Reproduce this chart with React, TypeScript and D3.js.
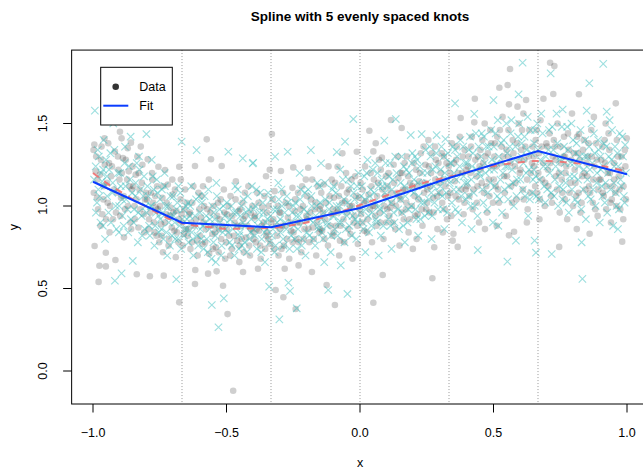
import React from "react";
import * as d3 from "d3";

// ---- Data ----
const xTicks = [-1.0, -0.5, 0.0, 0.5, 1.0];
const yTicks = [0.0, 0.5, 1.0, 1.5];
const knots = [-2 / 3, -1 / 3, 0, 1 / 3, 2 / 3];

const fitX = [-1, -2 / 3, -1 / 3, 0, 1 / 3, 2 / 3, 1];
const fitY = [1.147, 0.899, 0.871, 0.988, 1.17, 1.333, 1.192];

const trueX = [-1.0, -0.95, -0.9, -0.85, -0.8, -0.75, -0.7, -0.65, -0.6, -0.55, -0.5, -0.45, -0.4, -0.35, -0.3, -0.25, -0.2, -0.15, -0.1, -0.05, 0, 0.05, 0.1, 0.15, 0.2, 0.25, 0.3, 0.35, 0.4, 0.45, 0.5, 0.55, 0.6, 0.65, 0.7, 0.75, 0.8, 0.85, 0.9, 0.95, 1.0];
const trueY = [1.2, 1.14, 1.09, 1.04, 0.995, 0.95, 0.912, 0.89, 0.878, 0.87, 0.862, 0.862, 0.865, 0.866, 0.872, 0.885, 0.9, 0.925, 0.95, 0.977, 1.006, 1.035, 1.064, 1.093, 1.121, 1.145, 1.165, 1.183, 1.205, 1.225, 1.242, 1.255, 1.265, 1.272, 1.272, 1.268, 1.26, 1.253, 1.244, 1.228, 1.206];

const dataPoints: [number, number][] = [
  [-0.998,1.339],[-0.995,1.372],[-0.994,0.758],[-0.979,0.54],[-0.976,0.638],[-0.952,0.634],[-0.952,0.717],[-0.99,1.21],[-0.985,1.05],[-0.97,1.28],[-0.965,0.95],[-0.96,1.12],[-0.957,1.41],[-0.983,1.16],[-0.972,0.88],
  [-0.916,0.673],[-0.899,1.45],[-0.893,1.41],[-0.945,1.02],[-0.94,1.26],[-0.932,1.18],[-0.925,0.92],[-0.918,1.33],[-0.91,1.08],[-0.905,1.22],[-0.938,0.84],
  [-0.858,1.384],[-0.895,1.05],[-0.888,1.29],[-0.88,0.98],[-0.872,1.16],[-0.866,1.21],[-0.86,0.9],[-0.855,1.1],[-0.884,0.81],[-0.87,1.35],
  [-0.836,0.586],[-0.821,1.36],[-0.845,1.0],[-0.84,1.19],[-0.83,0.87],[-0.826,1.1],[-0.815,1.25],[-0.81,0.95],[-0.805,1.04],[-0.834,1.3],
  [-0.795,1.283],[-0.787,0.574],[-0.755,1.238],[-0.79,0.92],[-0.783,1.08],[-0.778,1.16],[-0.77,0.84],[-0.765,0.99],[-0.76,1.12],[-0.752,0.78],[-0.775,1.02],
  [-0.735,0.578],[-0.73,1.218],[-0.745,0.89],[-0.74,1.05],[-0.725,0.95],[-0.72,1.13],[-0.715,0.8],[-0.71,0.99],[-0.705,0.87],[-0.702,1.07],[-0.738,0.72],
  [-0.677,0.416],[-0.677,1.238],[-0.695,0.85],[-0.688,0.97],[-0.68,0.78],[-0.672,1.04],[-0.665,0.9],[-0.66,0.83],[-0.655,1.1],[-0.69,0.69],[-0.668,0.95],
  [-0.618,1.242],[-0.618,0.527],[-0.617,0.612],[-0.645,0.82],[-0.64,0.95],[-0.635,0.74],[-0.628,1.02],[-0.622,0.88],[-0.61,0.79],[-0.605,1.08],[-0.632,0.9],
  [-0.574,1.404],[-0.569,0.59],[-0.558,1.283],[-0.595,0.93],[-0.59,0.77],[-0.584,1.0],[-0.578,0.86],[-0.565,0.71],[-0.56,0.96],[-0.553,0.83],[-0.588,1.12],
  [-0.537,0.604],[-0.518,1.242],[-0.513,0.517],[-0.545,0.88],[-0.54,0.75],[-0.532,1.02],[-0.525,0.92],[-0.52,0.8],[-0.51,1.1],[-0.505,0.68],[-0.528,0.86],
  [-0.496,0.345],[-0.475,-0.12],[-0.498,0.95],[-0.49,0.82],[-0.485,1.06],[-0.48,0.74],[-0.47,0.9],[-0.465,1.15],[-0.46,0.79],[-0.455,0.97],[-0.452,0.66],
  [-0.445,0.88],[-0.44,1.02],[-0.435,0.72],[-0.43,0.94],[-0.425,0.81],[-0.418,1.12],[-0.412,0.7],[-0.408,0.86],[-0.403,1.0],[-0.438,0.6],
  [-0.396,0.93],[-0.39,0.78],[-0.385,1.08],[-0.378,0.85],[-0.372,0.68],[-0.366,0.99],[-0.36,0.9],[-0.355,0.74],[-0.352,1.18],[-0.382,0.62],
  [-0.33,1.436],[-0.316,0.491],[-0.348,0.84],[-0.342,1.0],[-0.336,0.77],[-0.325,0.92],[-0.32,1.09],[-0.31,0.82],[-0.305,0.7],[-0.302,0.96],[-0.338,1.22],
  [-0.296,1.212],[-0.287,0.447],[-0.25,1.234],[-0.292,0.88],[-0.285,0.76],[-0.278,1.02],[-0.27,0.93],[-0.265,0.68],[-0.258,0.85],[-0.253,1.11],[-0.282,0.62],
  [-0.241,0.376],[-0.245,0.97],[-0.238,0.8],[-0.232,1.08],[-0.226,0.9],[-0.22,0.72],[-0.214,1.0],[-0.208,0.86],[-0.203,1.16],[-0.23,0.64],
  [-0.194,1.232],[-0.198,0.92],[-0.19,0.78],[-0.184,1.04],[-0.176,0.87],[-0.17,0.98],[-0.164,0.7],[-0.158,1.12],[-0.152,0.84],[-0.18,0.6],
  [-0.125,0.521],[-0.148,1.0],[-0.142,0.85],[-0.136,1.13],[-0.13,0.92],[-0.12,0.76],[-0.114,1.06],[-0.108,0.95],[-0.103,0.82],[-0.118,1.24],
  [-0.094,0.4],[-0.084,1.238],[-0.066,1.319],[-0.098,1.05],[-0.09,0.88],[-0.082,0.98],[-0.075,0.79],[-0.07,1.12],[-0.062,0.92],[-0.055,1.03],[-0.078,0.7],
  [-0.012,1.329],[-0.048,0.96],[-0.042,1.1],[-0.036,0.83],[-0.03,1.0],[-0.024,0.9],[-0.018,1.18],[-0.008,0.77],[-0.004,1.05],[-0.028,0.68],
  [0.035,1.456],[0.05,1.331],[0.05,0.414],[0.004,0.95],[0.01,1.1],[0.016,0.85],[0.022,1.03],[0.028,0.92],[0.04,1.2],[0.045,0.78],[0.032,1.07],
  [0.059,1.38],[0.082,1.293],[0.085,0.582],[0.055,1.0],[0.062,0.88],[0.068,1.14],[0.074,0.96],[0.078,1.22],[0.088,0.8],[0.094,1.06],[0.098,0.9],
  [0.116,1.521],[0.104,1.12],[0.11,0.94],[0.12,1.02],[0.126,1.25],[0.132,0.86],[0.138,1.08],[0.144,1.17],[0.148,0.76],[0.113,0.99],
  [0.156,1.473],[0.152,1.04],[0.158,1.2],[0.164,0.92],[0.17,1.1],[0.176,1.3],[0.182,0.84],[0.188,1.14],[0.194,1.0],[0.198,0.74],[0.172,0.98],
  [0.204,1.06],[0.21,1.22],[0.216,0.95],[0.222,1.15],[0.228,1.32],[0.234,0.88],[0.24,1.08],[0.245,1.25],[0.248,0.98],[0.212,0.8],
  [0.256,1.4],[0.271,0.562],[0.281,1.36],[0.252,1.1],[0.26,0.96],[0.266,1.2],[0.274,1.05],[0.284,1.28],[0.29,0.86],[0.296,1.14],[0.278,0.75],
  [0.347,0.79],[0.302,1.2],[0.308,1.02],[0.314,1.3],[0.32,1.12],[0.326,0.92],[0.332,1.24],[0.338,1.08],[0.344,1.38],[0.31,0.84],
  [0.35,0.832],[0.366,0.752],[0.377,1.533],[0.355,1.15],[0.36,1.28],[0.37,1.04],[0.382,1.2],[0.388,0.95],[0.392,1.34],[0.396,1.1],[0.374,1.42],
  [0.43,1.65],[0.428,1.507],[0.404,1.24],[0.41,1.06],[0.416,1.36],[0.422,0.98],[0.436,1.18],[0.442,1.3],[0.446,0.9],[0.44,1.12],
  [0.452,1.22],[0.458,1.4],[0.464,1.08],[0.47,1.3],[0.476,0.96],[0.482,1.16],[0.488,1.46],[0.494,1.24],[0.498,1.02],[0.468,0.86],
  [0.522,1.717],[0.503,1.3],[0.508,1.12],[0.514,1.42],[0.52,1.02],[0.528,1.26],[0.534,1.54],[0.54,1.18],[0.546,0.94],[0.53,1.36],[0.512,0.88],
  [0.553,1.733],[0.562,1.83],[0.558,1.616],[0.558,0.822],[0.577,0.844],[0.59,1.602],[0.555,1.3],[0.566,1.12],[0.572,1.4],[0.58,1.24],[0.586,1.04],[0.594,1.5],[0.598,1.2],
  [0.622,1.642],[0.604,1.34],[0.61,1.1],[0.616,1.28],[0.628,0.98],[0.634,1.46],[0.64,1.2],[0.646,1.36],[0.625,0.9],[0.612,1.56],
  [0.687,1.65],[0.652,1.24],[0.658,1.4],[0.664,1.08],[0.67,1.32],[0.676,1.52],[0.682,1.16],[0.692,1.0],[0.698,1.38],[0.672,0.92],
  [0.712,1.868],[0.728,1.848],[0.724,1.679],[0.746,0.752],[0.704,1.22],[0.71,1.44],[0.716,1.06],[0.722,1.3],[0.734,1.18],[0.74,1.5],[0.748,0.96],[0.73,1.36],
  [0.752,1.26],[0.758,1.08],[0.764,1.42],[0.77,1.2],[0.776,0.92],[0.782,1.34],[0.788,1.14],[0.794,1.56],[0.798,1.0],[0.768,1.3],
  [0.82,1.677],[0.82,1.436],[0.804,1.22],[0.81,1.06],[0.816,1.32],[0.826,0.96],[0.832,1.18],[0.838,1.4],[0.844,1.1],[0.848,1.26],[0.812,0.86],
  [0.86,0.832],[0.852,1.3],[0.858,1.12],[0.866,1.46],[0.872,1.02],[0.878,1.24],[0.884,1.38],[0.89,0.94],[0.896,1.16],[0.876,1.54],
  [0.904,1.28],[0.91,1.08],[0.916,1.4],[0.922,0.98],[0.928,1.2],[0.934,1.34],[0.94,0.9],[0.946,1.12],[0.92,1.5],[0.938,1.02],
  [0.958,1.622],[0.982,0.784],[0.999,1.41],[0.952,1.16],[0.96,1.0],[0.966,1.3],[0.972,1.1],[0.978,1.22],[0.986,0.92],[0.992,1.34],[0.996,1.04],
  // core band
  [-0.997,1.08],[-0.988,1.3],[-0.981,0.98],[-0.974,1.19],[-0.968,1.36],[-0.961,1.04],[-0.956,1.25],[-0.951,0.92],
  [-0.948,1.14],[-0.943,1.38],[-0.936,1.0],[-0.929,1.24],[-0.921,1.1],[-0.914,0.96],[-0.907,1.3],[-0.901,1.16],
  [-0.898,0.94],[-0.892,1.2],[-0.885,1.06],[-0.877,1.28],[-0.869,1.0],[-0.863,1.12],[-0.857,0.86],[-0.852,1.24],
  [-0.849,1.12],[-0.843,0.92],[-0.837,1.04],[-0.829,1.2],[-0.823,0.98],[-0.817,1.14],[-0.808,0.84],[-0.802,1.08],
  [-0.798,1.04],[-0.792,0.86],[-0.785,0.96],[-0.779,1.2],[-0.772,0.9],[-0.767,1.06],[-0.762,0.82],[-0.757,0.98],
  [-0.749,1.0],[-0.743,0.82],[-0.737,1.12],[-0.731,0.9],[-0.724,1.02],[-0.717,0.76],[-0.711,0.94],[-0.703,1.16],
  [-0.699,0.96],[-0.693,1.1],[-0.686,0.84],[-0.679,0.92],[-0.671,1.16],[-0.664,0.76],[-0.658,0.98],[-0.652,0.86],
  [-0.649,1.02],[-0.643,0.86],[-0.637,0.96],[-0.63,0.78],[-0.624,1.12],[-0.614,0.92],[-0.608,0.7],[-0.602,0.98],
  [-0.599,0.82],[-0.593,1.06],[-0.586,0.9],[-0.58,0.78],[-0.572,0.98],[-0.566,1.16],[-0.559,0.88],[-0.551,0.74],
  [-0.549,1.0],[-0.543,0.84],[-0.535,0.94],[-0.529,0.72],[-0.522,1.04],[-0.515,0.88],[-0.508,0.96],[-0.502,0.78],
  [-0.499,0.86],[-0.492,1.0],[-0.486,0.7],[-0.478,0.94],[-0.472,0.82],[-0.466,1.04],[-0.459,0.88],[-0.451,0.76],
  [-0.449,0.98],[-0.443,0.8],[-0.437,0.92],[-0.431,1.08],[-0.422,0.88],[-0.415,0.76],[-0.409,0.96],[-0.401,0.84],
  [-0.399,0.8],[-0.393,0.94],[-0.387,0.86],[-0.38,1.02],[-0.374,0.76],[-0.368,0.88],[-0.358,1.06],[-0.351,0.82],
  [-0.349,0.96],[-0.344,0.8],[-0.333,0.9],[-0.327,1.04],[-0.322,0.74],[-0.314,0.88],[-0.308,1.0],[-0.301,0.86],
  [-0.299,0.96],[-0.294,0.74],[-0.288,1.08],[-0.281,0.88],[-0.273,0.8],[-0.267,1.0],[-0.26,0.9],[-0.252,0.78],
  [-0.249,0.84],[-0.243,1.04],[-0.235,0.9],[-0.229,0.78],[-0.223,0.98],[-0.217,1.12],[-0.211,0.8],[-0.201,0.94],
  [-0.199,1.06],[-0.193,0.86],[-0.187,0.96],[-0.179,1.16],[-0.173,0.8],[-0.167,1.02],[-0.161,0.9],[-0.151,0.98],
  [-0.149,0.86],[-0.145,1.08],[-0.139,0.96],[-0.133,0.8],[-0.127,1.02],[-0.111,0.88],[-0.106,1.16],[-0.101,0.98],
  [-0.099,0.84],[-0.093,1.14],[-0.087,0.96],[-0.079,1.06],[-0.073,0.88],[-0.067,1.02],[-0.059,0.78],[-0.052,1.2],
  [-0.049,1.08],[-0.044,0.86],[-0.038,1.0],[-0.032,1.16],[-0.022,0.94],[-0.016,1.06],[-0.01,0.88],[-0.002,0.98],
  [0.002,1.14],[0.008,0.9],[0.014,1.02],[0.019,1.24],[0.026,0.84],[0.037,0.98],[0.043,1.12],[0.048,1.0],
  [0.052,1.16],[0.057,0.94],[0.064,1.06],[0.071,1.28],[0.076,0.9],[0.084,1.1],[0.091,1.0],[0.097,1.18],
  [0.102,0.98],[0.107,1.2],[0.115,1.08],[0.122,0.9],[0.128,1.14],[0.135,1.0],[0.141,1.3],[0.147,1.06],
  [0.151,1.2],[0.155,0.96],[0.161,1.1],[0.167,1.26],[0.174,1.02],[0.18,1.18],[0.186,0.92],[0.196,1.12],
  [0.201,1.26],[0.206,0.94],[0.213,1.12],[0.219,1.04],[0.225,1.2],[0.231,0.98],[0.238,1.36],[0.243,1.14],
  [0.251,1.02],[0.258,1.24],[0.263,1.12],[0.269,1.32],[0.276,0.96],[0.282,1.16],[0.288,1.06],[0.294,1.26],
  [0.301,1.08],[0.306,1.32],[0.312,1.16],[0.318,0.98],[0.324,1.26],[0.33,1.06],[0.336,1.2],[0.342,0.94],
  [0.352,1.26],[0.358,1.06],[0.363,1.36],[0.368,1.2],[0.379,1.1],[0.385,1.3],[0.391,1.02],[0.398,1.22],
  [0.401,1.12],[0.407,1.3],[0.413,1.2],[0.419,1.42],[0.425,1.1],[0.432,1.28],[0.438,1.02],[0.448,1.24],
  [0.451,1.34],[0.456,1.14],[0.461,1.26],[0.467,1.5],[0.473,1.12],[0.479,1.32],[0.485,1.06],[0.491,1.38],
  [0.501,1.16],[0.506,1.38],[0.511,1.24],[0.517,1.1],[0.524,1.46],[0.536,1.3],[0.542,1.08],[0.549,1.34],
  [0.551,1.18],[0.556,1.46],[0.563,1.26],[0.569,1.02],[0.575,1.32],[0.582,1.14],[0.588,1.38],[0.596,1.28],
  [0.601,1.22],[0.607,1.46],[0.613,1.04],[0.619,1.36],[0.626,1.16],[0.632,1.3],[0.638,1.08],[0.644,1.26],
  [0.651,1.3],[0.656,1.12],[0.662,1.46],[0.668,1.2],[0.674,1.04],[0.68,1.36],[0.686,1.26],[0.694,1.14],
  [0.701,1.36],[0.706,1.12],[0.713,1.26],[0.719,1.02],[0.726,1.4],[0.733,1.28],[0.738,1.1],[0.745,1.2],
  [0.751,1.36],[0.756,1.16],[0.762,1.3],[0.767,1.04],[0.773,1.24],[0.779,1.44],[0.785,1.08],[0.791,1.28],
  [0.801,1.32],[0.807,1.14],[0.813,1.42],[0.819,1.08],[0.824,1.28],[0.83,1.02],[0.835,1.34],[0.841,1.2],
  [0.851,1.18],[0.856,1.38],[0.862,1.08],[0.868,1.3],[0.874,1.16],[0.881,0.98],[0.887,1.28],[0.893,1.1],
  [0.901,1.16],[0.907,1.36],[0.913,1.06],[0.918,1.26],[0.924,1.12],[0.931,1.44],[0.936,1.2],[0.943,1.04],
  [0.951,1.26],[0.956,1.08],[0.962,1.4],[0.969,1.18],[0.975,0.98],[0.98,1.3],[0.987,1.12],[0.994,1.24],
];

const crossPoints: [number, number][] = [
  [-0.993,1.578],[-0.99,1.24],[-0.985,1.02],[-0.978,1.3],[-0.972,0.9],[-0.966,1.15],[-0.96,1.4],[-0.955,0.8],[-0.98,1.1],[-0.962,1.22],
  [-0.924,1.501],[-0.918,0.547],[-0.948,1.18],[-0.942,0.96],[-0.935,1.32],[-0.928,1.08],[-0.912,0.86],[-0.906,1.2],[-0.902,1.0],
  [-0.893,0.592],[-0.859,1.42],[-0.851,0.667],[-0.896,1.12],[-0.89,0.94],[-0.882,1.26],[-0.876,1.04],[-0.868,0.84],[-0.862,1.16],[-0.88,1.36],
  [-0.8,1.436],[-0.846,0.98],[-0.84,1.14],[-0.832,0.78],[-0.826,1.22],[-0.818,0.94],[-0.812,1.06],[-0.806,0.86],[-0.828,1.3],
  [-0.796,1.12],[-0.79,0.88],[-0.784,1.0],[-0.776,1.18],[-0.77,0.76],[-0.764,0.96],[-0.758,1.08],[-0.753,0.84],[-0.78,1.28],
  [-0.748,0.92],[-0.742,1.1],[-0.736,0.8],[-0.728,1.0],[-0.722,0.7],[-0.716,0.9],[-0.71,1.06],[-0.704,0.82],[-0.732,1.2],
  [-0.688,0.556],[-0.668,1.39],[-0.698,0.94],[-0.692,0.8],[-0.684,1.02],[-0.676,0.88],[-0.67,0.74],[-0.662,0.98],[-0.656,0.86],[-0.68,1.12],
  [-0.612,1.339],[-0.648,0.92],[-0.642,0.78],[-0.636,1.0],[-0.63,0.84],[-0.624,0.7],[-0.618,0.94],[-0.608,0.82],[-0.603,1.06],
  [-0.555,0.4],[-0.598,0.86],[-0.592,1.02],[-0.586,0.74],[-0.58,0.9],[-0.574,0.8],[-0.568,1.1],[-0.562,0.92],[-0.556,0.68],
  [-0.53,0.265],[-0.51,0.44],[-0.548,0.96],[-0.542,0.82],[-0.536,1.06],[-0.524,0.9],[-0.518,0.76],[-0.512,1.0],[-0.504,0.86],[-0.54,0.66],
  [-0.493,1.329],[-0.496,0.9],[-0.488,0.78],[-0.482,1.0],[-0.476,0.86],[-0.47,0.7],[-0.464,0.96],[-0.458,1.1],[-0.452,0.82],
  [-0.439,1.289],[-0.402,1.258],[-0.448,0.94],[-0.442,0.76],[-0.436,1.04],[-0.43,0.88],[-0.424,0.72],[-0.418,0.98],[-0.41,0.84],[-0.405,1.12],
  [-0.4,1.262],[-0.398,0.86],[-0.392,1.0],[-0.386,0.74],[-0.38,0.92],[-0.374,1.08],[-0.368,0.8],[-0.362,0.96],[-0.356,0.66],[-0.352,0.9],
  [-0.34,0.511],[-0.318,1.299],[-0.302,0.313],[-0.346,0.92],[-0.338,0.78],[-0.332,1.04],[-0.326,0.86],[-0.32,0.72],[-0.312,0.98],[-0.306,1.14],
  [-0.271,1.329],[-0.268,0.535],[-0.262,0.485],[-0.298,0.84],[-0.292,1.0],[-0.286,0.76],[-0.28,0.9],[-0.274,1.06],[-0.258,0.82],[-0.254,0.96],
  [-0.237,0.38],[-0.248,0.88],[-0.242,1.02],[-0.236,0.74],[-0.228,0.94],[-0.222,1.1],[-0.216,0.8],[-0.21,0.98],[-0.204,0.7],[-0.226,1.2],
  [-0.184,1.339],[-0.196,0.96],[-0.19,0.82],[-0.182,1.06],[-0.176,0.9],[-0.168,0.76],[-0.162,1.0],[-0.156,0.86],[-0.152,1.12],
  [-0.146,1.259],[-0.119,0.491],[-0.144,0.92],[-0.138,0.8],[-0.13,1.04],[-0.124,0.88],[-0.116,0.98],[-0.11,0.72],[-0.104,1.1],[-0.134,0.66],
  [-0.087,1.327],[-0.056,1.39],[-0.096,0.94],[-0.09,1.08],[-0.084,0.82],[-0.076,1.0],[-0.07,0.9],[-0.064,1.16],[-0.058,0.78],[-0.072,0.64],
  [-0.047,0.467],[-0.025,1.527],[-0.046,1.02],[-0.04,0.88],[-0.034,1.12],[-0.028,0.94],[-0.02,1.04],[-0.014,0.8],[-0.006,1.2],[-0.01,0.9],
  [0.004,1.06],[0.01,0.9],[0.016,1.18],[0.022,0.98],[0.028,1.28],[0.034,0.84],[0.04,1.1],[0.046,0.96],[0.02,0.72],[0.048,1.22],
  [0.091,1.396],[0.054,1.08],[0.06,0.92],[0.066,1.2],[0.072,1.0],[0.078,0.82],[0.084,1.12],[0.09,0.96],[0.096,1.26],[0.07,0.7],
  [0.134,1.527],[0.102,1.04],[0.108,1.18],[0.114,0.88],[0.12,1.1],[0.126,0.96],[0.132,1.3],[0.14,1.06],[0.146,0.86],[0.118,0.74],
  [0.19,1.43],[0.152,1.14],[0.158,0.96],[0.164,1.24],[0.17,1.06],[0.178,0.9],[0.184,1.2],[0.192,1.0],[0.196,1.32],[0.168,0.78],
  [0.231,1.436],[0.202,1.16],[0.208,0.98],[0.214,1.28],[0.22,1.06],[0.226,0.92],[0.234,1.2],[0.24,1.02],[0.246,1.34],[0.218,0.82],
  [0.287,1.43],[0.252,1.2],[0.258,1.04],[0.264,1.3],[0.27,0.94],[0.276,1.12],[0.282,1.24],[0.292,0.98],[0.298,1.16],[0.268,0.8],
  [0.32,1.406],[0.302,1.22],[0.308,1.06],[0.314,1.3],[0.326,0.96],[0.332,1.16],[0.338,1.26],[0.344,1.02],[0.348,1.36],[0.316,0.86],
  [0.356,1.622],[0.352,1.2],[0.358,0.98],[0.364,1.3],[0.37,1.1],[0.376,1.4],[0.382,0.9],[0.388,1.18],[0.394,1.26],[0.398,1.04],
  [0.441,0.733],[0.428,1.558],[0.402,1.14],[0.408,1.34],[0.414,1.0],[0.42,1.24],[0.426,1.08],[0.434,1.44],[0.44,0.94],[0.446,1.2],[0.418,0.86],
  [0.5,1.642],[0.452,1.3],[0.458,1.1],[0.464,1.42],[0.47,1.2],[0.476,0.98],[0.482,1.36],[0.488,1.14],[0.494,1.28],[0.498,0.9],
  [0.502,1.22],[0.508,1.44],[0.514,1.06],[0.52,1.3],[0.526,1.16],[0.532,0.96],[0.538,1.4],[0.544,1.24],[0.548,1.5],[0.518,0.88],
  [0.552,0.663],[0.584,0.79],[0.594,1.677],[0.552,1.32],[0.558,1.12],[0.564,1.44],[0.57,1.22],[0.576,1.0],[0.582,1.36],[0.588,1.16],[0.596,1.5],
  [0.609,1.868],[0.604,1.3],[0.61,1.1],[0.616,1.42],[0.622,1.2],[0.628,1.54],[0.636,1.04],[0.642,1.32],[0.648,1.16],[0.63,0.94],
  [0.654,0.79],[0.659,0.717],[0.652,1.38],[0.658,1.18],[0.664,1.5],[0.67,1.04],[0.676,1.28],[0.684,1.44],[0.69,1.12],[0.696,1.3],
  [0.714,1.804],[0.718,0.709],[0.702,1.24],[0.708,1.46],[0.716,1.08],[0.724,1.34],[0.73,1.16],[0.736,1.56],[0.742,1.0],[0.748,1.28],
  [0.759,1.585],[0.752,1.2],[0.758,1.04],[0.764,1.36],[0.77,1.14],[0.776,1.48],[0.782,0.96],[0.788,1.26],[0.794,1.1],[0.798,1.4],
  [0.83,0.78],[0.833,0.558],[0.849,1.578],[0.802,1.18],[0.808,1.32],[0.814,1.02],[0.82,1.24],[0.826,1.46],[0.836,1.1],[0.842,1.3],[0.846,0.92],
  [0.859,1.744],[0.852,1.16],[0.858,1.36],[0.864,1.04],[0.87,1.26],[0.876,1.44],[0.882,1.0],[0.888,1.2],[0.894,1.34],[0.898,0.9],
  [0.911,1.861],[0.924,1.572],[0.902,1.22],[0.908,1.06],[0.914,1.38],[0.92,1.14],[0.926,0.96],[0.932,1.3],[0.938,1.1],[0.944,1.46],[0.948,0.88],
  [0.993,1.37],[0.952,1.24],[0.958,1.08],[0.964,1.32],[0.97,0.98],[0.976,1.16],[0.982,1.42],[0.988,1.06],[0.996,1.2],[0.966,0.86],
  // core band
  [-0.996,1.16],[-0.989,0.96],[-0.982,1.34],[-0.975,1.06],[-0.969,1.2],[-0.963,0.88],[-0.957,1.12],[-0.951,1.28],
  [-0.947,1.06],[-0.94,1.22],[-0.933,0.9],[-0.926,1.14],[-0.92,1.34],[-0.915,1.0],[-0.909,1.1],[-0.903,0.84],
  [-0.899,1.2],[-0.891,1.04],[-0.885,0.88],[-0.878,1.12],[-0.871,0.98],[-0.865,1.24],[-0.858,0.92],[-0.853,1.08],
  [-0.848,0.9],[-0.842,1.06],[-0.836,1.26],[-0.83,0.96],[-0.822,1.1],[-0.816,0.82],[-0.809,1.18],[-0.803,1.0],
  [-0.799,0.96],[-0.793,1.06],[-0.787,0.82],[-0.781,1.0],[-0.773,1.1],[-0.767,0.88],[-0.761,1.16],[-0.755,0.94],
  [-0.749,1.04],[-0.744,0.86],[-0.738,0.96],[-0.731,1.12],[-0.725,0.84],[-0.719,1.0],[-0.712,0.76],[-0.707,0.94],
  [-0.699,1.06],[-0.694,0.9],[-0.687,0.98],[-0.681,0.8],[-0.673,1.08],[-0.666,0.92],[-0.659,0.82],[-0.652,1.0],
  [-0.649,0.86],[-0.644,1.02],[-0.638,0.94],[-0.632,1.12],[-0.626,0.8],[-0.62,0.88],[-0.614,1.04],[-0.606,0.76],
  [-0.599,0.96],[-0.594,0.8],[-0.588,0.88],[-0.582,1.06],[-0.576,0.94],[-0.57,0.72],[-0.564,0.86],[-0.553,1.0],
  [-0.549,0.78],[-0.544,0.92],[-0.538,1.14],[-0.532,0.86],[-0.526,0.98],[-0.52,0.7],[-0.514,0.84],[-0.506,0.94],
  [-0.499,1.02],[-0.494,0.84],[-0.487,0.92],[-0.48,0.76],[-0.474,0.96],[-0.467,1.12],[-0.461,0.88],[-0.454,0.74],
  [-0.449,0.84],[-0.444,1.0],[-0.438,0.9],[-0.432,0.78],[-0.426,0.96],[-0.42,1.06],[-0.414,0.8],[-0.407,0.92],
  [-0.399,0.98],[-0.394,0.82],[-0.388,1.1],[-0.382,0.88],[-0.376,0.96],[-0.37,0.72],[-0.364,1.02],[-0.358,0.84],
  [-0.349,0.86],[-0.344,1.08],[-0.336,0.94],[-0.33,0.82],[-0.324,0.98],[-0.316,0.76],[-0.31,0.9],[-0.304,1.04],
  [-0.299,0.92],[-0.294,1.1],[-0.288,0.8],[-0.282,0.96],[-0.276,0.86],[-0.27,1.02],[-0.264,0.74],[-0.256,0.9],
  [-0.249,1.0],[-0.244,0.8],[-0.238,0.94],[-0.232,0.86],[-0.224,1.04],[-0.218,0.76],[-0.212,0.9],[-0.206,1.08],
  [-0.199,0.84],[-0.194,1.1],[-0.188,0.92],[-0.18,1.0],[-0.174,0.8],[-0.166,0.94],[-0.16,1.14],[-0.154,0.88],
  [-0.149,1.02],[-0.143,0.84],[-0.137,0.96],[-0.131,1.14],[-0.122,0.9],[-0.115,1.02],[-0.108,0.82],[-0.102,0.94],
  [-0.099,1.12],[-0.094,0.86],[-0.088,1.0],[-0.08,0.9],[-0.074,1.22],[-0.067,0.96],[-0.06,1.04],[-0.053,0.86],
  [-0.049,0.94],[-0.043,1.16],[-0.037,0.98],[-0.031,0.82],[-0.024,1.08],[-0.017,0.92],[-0.011,1.12],[-0.003,1.0],
  [0.002,0.96],[0.007,1.12],[0.013,0.86],[0.019,1.04],[0.025,1.2],[0.031,0.94],[0.037,1.06],[0.043,0.88],
  [0.052,1.02],[0.057,1.26],[0.063,0.9],[0.069,1.12],[0.075,0.98],[0.081,1.16],[0.087,0.88],[0.093,1.08],
  [0.101,1.12],[0.106,0.92],[0.112,1.26],[0.117,1.02],[0.123,1.16],[0.129,0.9],[0.137,1.2],[0.143,0.98],
  [0.151,1.04],[0.156,1.3],[0.162,0.88],[0.167,1.12],[0.174,1.22],[0.181,0.98],[0.188,1.1],[0.194,1.26],
  [0.201,1.08],[0.206,1.3],[0.211,0.92],[0.217,1.14],[0.224,1.24],[0.229,1.02],[0.236,1.12],[0.243,0.94],
  [0.251,1.14],[0.256,0.96],[0.261,1.36],[0.267,1.08],[0.273,1.22],[0.279,1.02],[0.286,1.32],[0.294,1.08],
  [0.301,1.12],[0.305,1.36],[0.311,0.98],[0.318,1.2],[0.323,1.08],[0.329,1.32],[0.336,1.14],[0.342,1.26],
  [0.351,1.1],[0.356,1.34],[0.361,1.16],[0.367,0.96],[0.373,1.24],[0.379,1.06],[0.386,1.36],[0.393,1.14],
  [0.401,1.26],[0.406,1.06],[0.412,1.42],[0.417,1.16],[0.423,1.32],[0.43,1.0],[0.437,1.22],[0.444,1.36],
  [0.451,1.18],[0.456,1.44],[0.462,1.02],[0.467,1.26],[0.473,1.36],[0.479,1.08],[0.485,1.22],[0.491,1.46],
  [0.501,1.36],[0.505,1.12],[0.511,1.26],[0.516,1.52],[0.523,1.04],[0.529,1.38],[0.535,1.2],[0.541,1.1],
  [0.551,1.24],[0.555,1.04],[0.561,1.36],[0.567,1.52],[0.573,1.14],[0.579,1.28],[0.586,1.06],[0.592,1.42],
  [0.601,1.16],[0.606,1.38],[0.612,1.26],[0.618,1.06],[0.624,1.34],[0.633,1.22],[0.639,1.46],[0.645,1.08],
  [0.651,1.22],[0.656,1.46],[0.661,1.06],[0.667,1.34],[0.673,1.16],[0.679,1.56],[0.687,1.24],[0.694,1.02],
  [0.701,1.1],[0.706,1.34],[0.711,1.2],[0.72,1.48],[0.727,1.06],[0.733,1.24],[0.739,1.38],[0.746,1.12],
  [0.751,1.3],[0.756,1.48],[0.761,1.1],[0.767,1.26],[0.773,1.02],[0.779,1.34],[0.786,1.18],[0.792,1.5],
  [0.801,1.26],[0.806,1.04],[0.811,1.38],[0.817,1.16],[0.823,1.3],[0.829,0.98],[0.838,1.22],[0.844,1.4],
  [0.851,1.3],[0.855,1.06],[0.861,1.22],[0.867,1.5],[0.873,1.1],[0.879,1.32],[0.886,1.14],[0.892,1.4],
  [0.901,1.3],[0.905,1.12],[0.911,1.24],[0.917,1.02],[0.923,1.36],[0.929,1.2],[0.935,1.52],[0.942,1.28],
  [0.951,1.14],[0.955,1.36],[0.961,1.0],[0.967,1.24],[0.973,1.44],[0.979,1.12],[0.985,1.3],[0.991,1.02],
];

const W = 643;
const H = 470;
const FONT = "'Liberation Sans', Arial, Helvetica, sans-serif";

export default function App() {
  const x = d3.scaleLinear().domain([-1, 1]).range([93, 627]);
  const y = d3.scaleLinear().domain([0, 1.5]).range([371, 123.5]);
  const left = x(-1.08);
  const right = x(1.08);
  const top = y(1.945);
  const bottom = y(-0.2);

  const line = d3
    .line<number>()
    .x((_, i) => x(fitX[i]))
    .y((d) => y(d));
  const trueLine = d3
    .line<number>()
    .x((_, i) => x(trueX[i]))
    .y((d) => y(d))
    .curve(d3.curveMonotoneX);

  const cs = 3.7;

  return (
    <svg
      width={W}
      height={H}
      style={{ position: "absolute", left: 0, top: 0, background: "#fff" }}
      fontFamily={FONT}
    >
      <rect x={0} y={0} width={W} height={H} fill="#fff" />
      <text x={x(0)} y={20.5} textAnchor="middle" fontWeight="bold" fontSize={13.5} fill="#000">
        Spline with 5 evenly spaced knots
      </text>

      <g>
        {dataPoints.map((p, i) => (
          <circle key={"d" + i} cx={x(p[0])} cy={y(p[1])} r={3.3} fill="#000" fillOpacity={0.19} />
        ))}
      </g>
      <g stroke="#3cc0c0" strokeOpacity={0.5} strokeWidth={1.1}>
        {crossPoints.map((p, i) => {
          const cx = x(p[0]);
          const cy = y(p[1]);
          return (
            <path
              key={"c" + i}
              d={`M${cx - cs},${cy - cs}L${cx + cs},${cy + cs}M${cx - cs},${cy + cs}L${cx + cs},${cy - cs}`}
            />
          );
        })}
      </g>

      {knots.map((k, i) => (
        <line key={"k" + i} x1={x(k)} x2={x(k)} y1={top} y2={bottom} stroke="#999" strokeWidth={1} strokeDasharray="1,2" />
      ))}

      <path d={trueLine(trueY) || ""} fill="none" stroke="#f07070" strokeOpacity={0.9} strokeWidth={2} strokeDasharray="7,7" />
      <path d={line(fitY) || ""} fill="none" stroke="#0a3cff" strokeWidth={2} />

      {/* box */}
      <rect x={left} y={top} width={right - left} height={bottom - top} fill="none" stroke="#000" strokeWidth={1} />

      {/* axes */}
      <g fontSize={12.5} fill="#000">
        {xTicks.map((t, i) => (
          <g key={"xt" + i}>
            <line x1={x(t)} x2={x(t)} y1={bottom} y2={bottom + 8.5} stroke="#000" />
            <text x={x(t)} y={437} textAnchor="middle">
              {t.toFixed(1).replace("-", "\u2212")}
            </text>
          </g>
        ))}
        {yTicks.map((t, i) => (
          <g key={"yt" + i}>
            <line x1={left - 8.5} x2={left} y1={y(t)} y2={y(t)} stroke="#000" />
            <text transform={`translate(${47},${y(t)}) rotate(-90)`} textAnchor="middle">
              {t.toFixed(1)}
            </text>
          </g>
        ))}
        <text x={x(0)} y={467} textAnchor="middle">x</text>
        <text transform={`translate(${18},${(top + bottom) / 2}) rotate(-90)`} textAnchor="middle">y</text>
      </g>

      {/* legend */}
      <g>
        <rect x={100.7} y={67.3} width={71.6} height={57.7} fill="#fff" stroke="#000" strokeWidth={1} />
        <circle cx={115.7} cy={86.7} r={3.3} fill="#333" />
        <line x1={103.3} x2={128.3} y1={105.7} y2={105.7} stroke="#0a3cff" strokeWidth={2} />
        <text x={139.3} y={91.2} fontSize={12.5} fill="#000">Data</text>
        <text x={139.3} y={110.2} fontSize={12.5} fill="#000">Fit</text>
      </g>
    </svg>
  );
}
